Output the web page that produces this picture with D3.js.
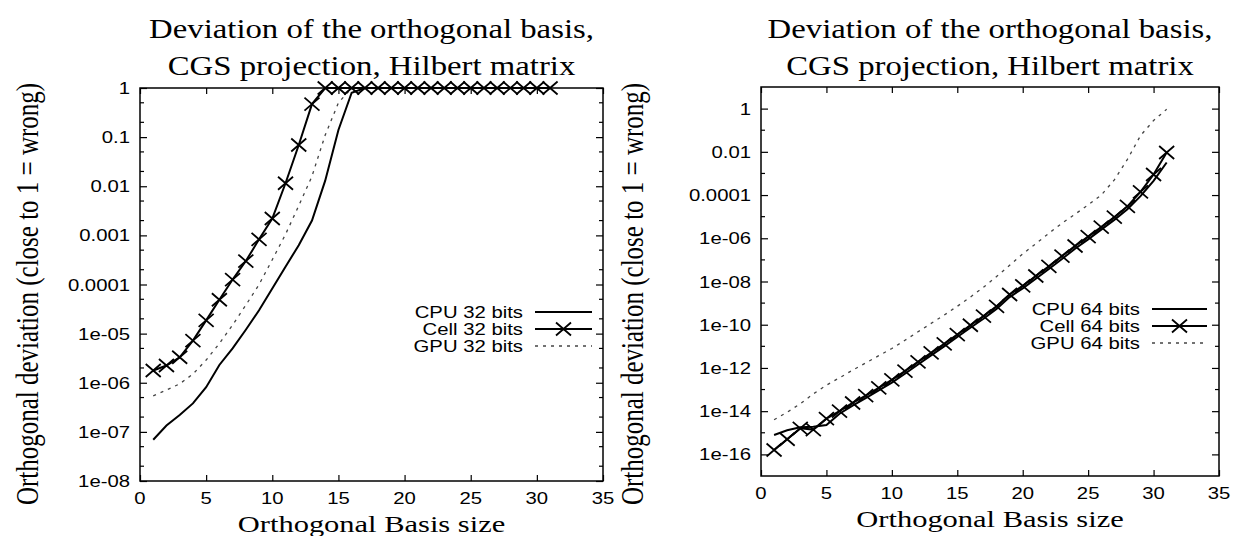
<!DOCTYPE html>
<html>
<head>
<meta charset="utf-8">
<script src="https://cdn.jsdelivr.net/npm/d3@7"></script>
<style>
body { margin: 0; background: #fff; }
</style>
</head>
<body>
<div id="chart"></div>
<script>
var w = 1241, h = 536;

// basis sizes on the x axis
var basisSize = [1,2,3,4,5,6,7,8,9,10,11,12,13,14,15,16,17,18,19,20,21,22,23,24,25,26,27,28,29,30,31];

// 32 bit runs
var cpu32  = [6.9e-8,1.35e-7,2.2e-7,3.8e-7,8.1e-7,2.3e-6,5.0e-6,1.2e-5,3.0e-5,8.3e-5,2.3e-4,6.3e-4,2.0e-3,0.013,0.14,0.8,
              1,1,1,1,1,1,1,1,1,1,1,1,1,1,1];
var cell32 = [1.78e-6,2.24e-6,3.3e-6,7.2e-6,1.86e-5,4.9e-5,1.26e-4,3.0e-4,8.3e-4,2.2e-3,0.0115,0.069,0.47,
              1,1,1,1,1,1,1,1,1,1,1,1,1,1,1,1,1,1];
var gpu32  = [5.4e-7,7.1e-7,9.5e-7,1.5e-6,2.9e-6,6.3e-6,1.5e-5,3.8e-5,1.0e-4,3.2e-4,1.05e-3,4.0e-3,0.016,0.11,0.5,
              1,1,1,1,1,1,1,1,1,1,1,1,1,1,1,1];

// 64 bit runs
var cpu64  = [7.9e-16,1.3e-15,1.8e-15,1.9e-15,2.3e-15,7.6e-15,1.8e-14,4.0e-14,9.1e-14,2.1e-13,5.4e-13,1.45e-12,3.8e-12,1.0e-11,
              2.7e-11,7.2e-11,1.9e-10,5.4e-10,1.9e-9,4.8e-9,1.35e-8,3.8e-8,1.1e-7,3.3e-7,8.9e-7,2.5e-6,7.1e-6,2.2e-5,8.9e-5,4.5e-4,3.2e-3];
var cell64 = [1.6e-16,5e-16,1.6e-15,1.4e-15,4.5e-15,1.0e-14,2.4e-14,5.2e-14,1.2e-13,2.8e-13,7.1e-13,1.9e-12,5.0e-12,1.3e-11,
              3.5e-11,9.5e-11,2.5e-10,7.1e-10,2.5e-9,6.3e-9,1.8e-8,5.0e-8,1.5e-7,4.4e-7,1.2e-6,3.3e-6,9.5e-6,3.0e-5,1.4e-4,8.9e-4,9.3e-3];
var gpu64  = [4.0e-15,8.9e-15,2.2e-14,6.3e-14,1.6e-13,3.5e-13,7.9e-13,1.7e-12,3.7e-12,7.9e-12,1.9e-11,4.7e-11,1.15e-10,2.8e-10,
              7.1e-10,1.9e-9,5.4e-9,1.7e-8,5.6e-8,1.9e-7,5.6e-7,1.7e-6,5.0e-6,1.3e-5,3.5e-5,1.0e-4,5.0e-4,4.5e-3,0.056,0.28,0.93];

// ticks
var xTicks = [0,5,10,15,20,25,30,35];
var yTicks32 = [1e-8,1e-7,1e-6,1e-5,1e-4,1e-3,1e-2,1e-1,1];
var yLabels32 = ["1e-08","1e-07","1e-06","1e-05","0.0001","0.001","0.01","0.1","1"];
var yMinor32 = [2e-8,5e-8,2e-7,5e-7,2e-6,5e-6,2e-5,5e-5,2e-4,5e-4,2e-3,5e-3,2e-2,5e-2,0.2,0.5];
var yTicks64 = [1e-16,1e-14,1e-12,1e-10,1e-8,1e-6,1e-4,1e-2,1];
var yLabels64 = ["1e-16","1e-14","1e-12","1e-10","1e-08","1e-06","0.0001","0.01","1"];
var yMinor64 = [1e-15,1e-13,1e-11,1e-9,1e-7,1e-5,1e-3,1e-1];

var titleLines = ["Deviation of the orthogonal basis,", "CGS projection, Hilbert matrix"];
var xTitle = "Orthogonal Basis size";
var yTitle = "Orthogonal deviation (close to 1 = wrong)";
var legend32 = ["CPU 32 bits", "Cell 32 bits", "GPU 32 bits"];
var legend64 = ["CPU 64 bits", "Cell 64 bits", "GPU 64 bits"];

var svg = d3.select("#chart")
    .append("svg")
    .attr("width", w)
    .attr("height", h);

// the original figure is stretched sideways, so text gets a horizontal scale
var SX = 1.27;
var SANS = "Liberation Sans, Arial, sans-serif";
var SERIF = "Liberation Serif, Times New Roman, serif";

function label(g, x, y, str, anchor, size, family, sx) {
  return g.append("text")
      .attr("transform", "translate(" + x + "," + y + ") scale(" + (sx || SX) + ",1)")
      .attr("text-anchor", anchor)
      .attr("font-family", family)
      .attr("font-size", size)
      .attr("fill", "#000")
      .text(str);
}

// gnuplot's X point, a bit wider than tall
function cross(g, cx, cy) {
  var rx = 7.5, ry = 6.5;
  g.append("path")
      .attr("d", "M" + (cx - rx) + "," + (cy - ry) + "L" + (cx + rx) + "," + (cy + ry) +
                 "M" + (cx - rx) + "," + (cy + ry) + "L" + (cx + rx) + "," + (cy - ry))
      .attr("stroke", "#000")
      .attr("stroke-width", 1.8)
      .attr("fill", "none");
}

function panel(p) {
  var x = d3.scaleLinear().domain([0, 35]).range([p.left, p.right]);
  var y = d3.scaleLog().domain(p.yDomain).range([p.bottom, p.top]);
  var g = svg.append("g");

  // major ticks on all four sides, pointing inwards (gnuplot style)
  var noText = function() { return ""; };
  var axes = [
    [d3.axisBottom(x).tickValues(xTicks), "translate(0," + p.bottom + ")", 6],
    [d3.axisTop(x).tickValues(xTicks), "translate(0," + p.top + ")", 6],
    [d3.axisLeft(y).tickValues(p.yTicks), "translate(" + p.left + ",0)", 7],
    [d3.axisRight(y).tickValues(p.yTicks), "translate(" + p.right + ",0)", 7]
  ];
  axes.forEach(function(a) {
    var ax = g.append("g")
        .attr("transform", a[1])
        .call(a[0].tickSizeInner(-a[2]).tickSizeOuter(0).tickFormat(noText));
    ax.select(".domain").remove();
    ax.selectAll("line").attr("stroke", "#000").attr("stroke-width", 1.2);
  });

  // minor y ticks
  [[p.left, 4], [p.right, -4]].forEach(function(s) {
    g.selectAll(null)
        .data(p.yMinor)
      .enter().append("line")
        .attr("x1", s[0]).attr("x2", s[0] + s[1])
        .attr("y1", function(d) { return y(d); })
        .attr("y2", function(d) { return y(d); })
        .attr("stroke", "#000")
        .attr("stroke-width", 1.2);
  });

  // frame
  g.append("rect")
      .attr("x", p.left).attr("y", p.top)
      .attr("width", p.right - p.left).attr("height", p.bottom - p.top)
      .attr("fill", "none")
      .attr("stroke", "#000")
      .attr("stroke-width", 1.5);

  // tick labels
  p.yTicks.forEach(function(t, i) {
    label(g, p.left - 10, y(t) + 6, p.yLabels[i], "end", 16, SANS);
  });
  xTicks.forEach(function(t) {
    label(g, x(t), p.bottom + 23, String(t), "middle", 16, SANS);
  });

  // titles
  var cx = (p.left + p.right) / 2;
  label(g, cx, 38, titleLines[0], "middle", 28, SERIF, 1.17);
  label(g, cx, 75, titleLines[1], "middle", 28, SERIF, 1.17);
  label(g, cx, p.bottom + 51, xTitle, "middle", 24, SERIF);
  g.append("text")
      .attr("transform", "translate(" + p.yTitleX + ",294) rotate(-90) scale(1," + SX + ")")
      .attr("text-anchor", "middle")
      .attr("font-family", SERIF)
      .attr("font-size", 25)
      .text(yTitle);

  // series
  var line = d3.line()
      .x(function(d, i) { return x(basisSize[i]); })
      .y(function(d) { return y(d); });

  g.append("path")
      .datum(p.gpu)
      .attr("d", line)
      .attr("fill", "none")
      .attr("stroke", "#444")
      .attr("stroke-width", 1.3)
      .attr("stroke-dasharray", "3,5");

  g.append("path")
      .datum(p.cpu)
      .attr("d", line)
      .attr("fill", "none")
      .attr("stroke", "#000")
      .attr("stroke-width", 2);

  g.append("path")
      .datum(p.cell)
      .attr("d", line)
      .attr("fill", "none")
      .attr("stroke", "#000")
      .attr("stroke-width", 2);

  p.cell.forEach(function(d, i) {
    cross(g, x(basisSize[i]), y(d));
  });

  // legend
  var lg = p.legend;
  for (var i = 0; i < 3; i++) {
    var ly = p.legendY + i * 17;
    label(g, lg.textX, ly + 6, p.legendText[i], "end", 16, SANS);
    var l = g.append("line")
        .attr("x1", lg.x1).attr("x2", lg.x2)
        .attr("y1", ly).attr("y2", ly)
        .attr("stroke", i == 2 ? "#444" : "#000")
        .attr("stroke-width", i == 2 ? 1.3 : 2);
    if (i == 2) l.attr("stroke-dasharray", "3,5");
    if (i == 1) cross(g, (lg.x1 + lg.x2) / 2, ly);
  }
}

panel({
  left: 140, right: 603, top: 88, bottom: 481,
  yDomain: [1e-8, 1], yTicks: yTicks32, yLabels: yLabels32, yMinor: yMinor32,
  cpu: cpu32, cell: cell32, gpu: gpu32,
  legendText: legend32, legendY: 312, legend: { textX: 523, x1: 535, x2: 592 },
  yTitleX: 38
});

panel({
  left: 761, right: 1219, top: 87, bottom: 476,
  yDomain: [1e-17, 10], yTicks: yTicks64, yLabels: yLabels64, yMinor: yMinor64,
  cpu: cpu64, cell: cell64, gpu: gpu64,
  legendText: legend64, legendY: 309, legend: { textX: 1140, x1: 1152, x2: 1207 },
  yTitleX: 643
});
</script>
</body>
</html>
